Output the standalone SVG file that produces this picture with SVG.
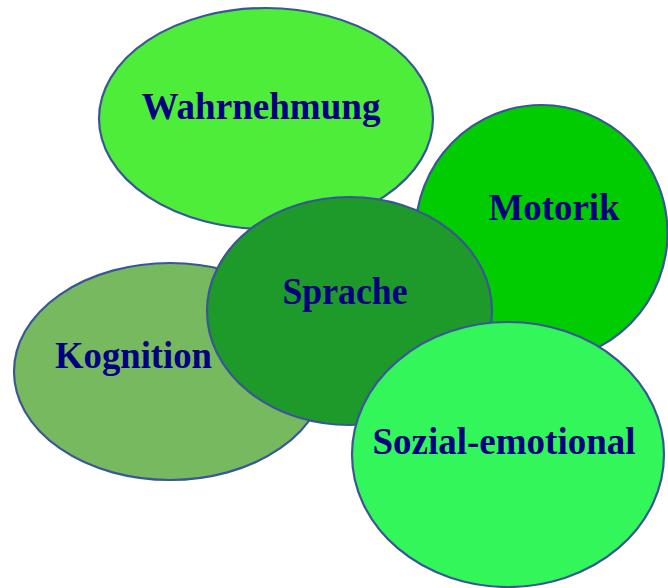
<svg xmlns="http://www.w3.org/2000/svg" width="668" height="588" viewBox="0 0 668 588">
<style>
.e{stroke:#3a5795;stroke-width:2.2}
.t{font-family:"Liberation Serif","Times New Roman",serif;font-weight:bold;font-size:38px;fill:#000080}
</style>
<rect width="668" height="588" fill="#ffffff"/>
<g id="connectors"/>
<g id="wahrnehmung">
<ellipse class="e" cx="266" cy="118.5" rx="167" ry="110.5" fill="#4ded3a"/>
<text class="t" x="141.5" y="119" textLength="239" lengthAdjust="spacingAndGlyphs">Wahrnehmung</text>
</g>
<g id="motorik">
<ellipse class="e" cx="541.5" cy="233" rx="126" ry="128" fill="#00cc00"/>
<text class="t" x="488.5" y="220" textLength="131" lengthAdjust="spacingAndGlyphs">Motorik</text>
</g>
<g id="kognition">
<ellipse class="e" cx="170" cy="371.5" rx="156" ry="108.5" fill="#77b95f"/>
</g>
<g id="sprache">
<ellipse class="e" cx="349.5" cy="311" rx="142.5" ry="114" fill="#1e9a2a"/>
<text class="t" x="282.5" y="303.5" textLength="125" lengthAdjust="spacingAndGlyphs">Sprache</text>
</g>
<g id="kognition-label">
<text class="t" x="55" y="367.5" textLength="157" lengthAdjust="spacingAndGlyphs">Kognition</text>
</g>
<g id="sozial-emotional">
<ellipse class="e" cx="508" cy="454.5" rx="156" ry="132.5" fill="#33f75a"/>
<text class="t" x="372.5" y="453.5" textLength="263" lengthAdjust="spacingAndGlyphs">Sozial-emotional</text>
</g>
</svg>
